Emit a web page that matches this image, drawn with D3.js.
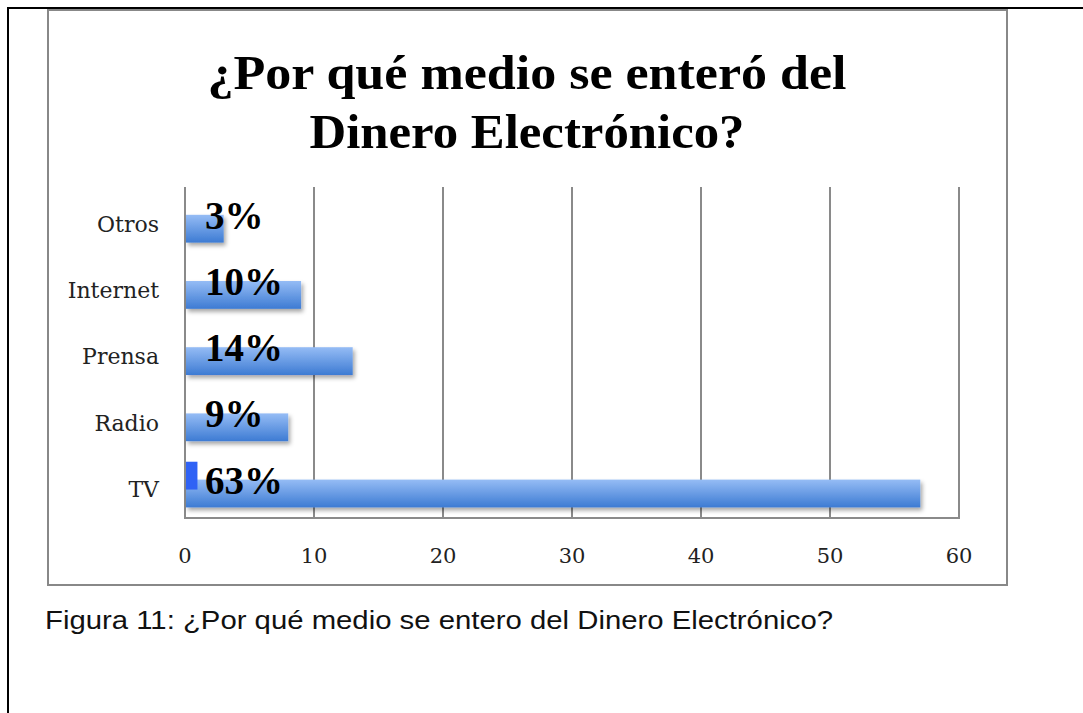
<!DOCTYPE html>
<html>
<head>
<meta charset="utf-8">
<script src="https://cdn.jsdelivr.net/npm/d3@7"></script>
<style>
  body { margin: 0; background: #fff; }
  svg { display: block; }
</style>
</head>
<body>
<svg id="chart" width="1083" height="713"></svg>
<script>
// data
var categories = ['Otros', 'Internet', 'Prensa', 'Radio', 'TV'];
var mainValues = [3, 9, 13, 8, 57];
var extraValues = [0, 0, 0, 0, 0.5];
var pctLabels = ['3%', '10%', '14%', '9%', '63%'];
var xTicks = [0, 10, 20, 30, 40, 50, 60];
var titleLines = ['¿Por qué medio se enteró del', 'Dinero Electrónico?'];
var caption = 'Figura 11: ¿Por qué medio se entero del Dinero Electrónico?';

var svg = d3.select('#chart');
var serif = "'DejaVu Serif', serif";
var titleSerif = "'Liberation Serif', 'Times New Roman', serif";

var plot = { left: 185, right: 959, top: 187, bottom: 518 };

var defs = svg.append('defs');
var grad = defs.append('linearGradient').attr('id', 'barGrad')
    .attr('x1', 0).attr('y1', 0).attr('x2', 0).attr('y2', 1);
grad.append('stop').attr('offset', '0%').attr('stop-color', '#95bcf5');
grad.append('stop').attr('offset', '100%').attr('stop-color', '#3d7bd3');

var shadow = defs.append('filter').attr('id', 'shadow')
    .attr('x', '-10%').attr('y', '-20%').attr('width', '130%').attr('height', '160%');
shadow.append('feDropShadow').attr('dx', 2).attr('dy', 3)
    .attr('stdDeviation', 2).attr('flood-color', '#000').attr('flood-opacity', 0.35);

// page frame (black) and chart frame (gray)
svg.append('path').attr('d', 'M8,713 L8,8 L1083,8')
    .attr('fill', 'none').attr('stroke', '#000').attr('stroke-width', 2);
svg.append('rect').attr('x', 48).attr('y', 10).attr('width', 959).attr('height', 575)
    .attr('fill', '#fff').attr('stroke', '#888').attr('stroke-width', 2);

// title (glyphs stretched a bit to match the condensed original face)
var titleWidths = [639, 435];
svg.append('g').selectAll('text').data(titleLines).enter().append('text')
    .attr('x', 527).attr('y', (d, i) => 89 + i * 59)
    .attr('text-anchor', 'middle')
    .attr('textLength', (d, i) => titleWidths[i]).attr('lengthAdjust', 'spacingAndGlyphs')
    .style('font-family', titleSerif).style('font-weight', 'bold').style('font-size', '48px')
    .text(d => d);

// scales
var x = d3.scaleLinear().domain([0, 60]).range([plot.left, plot.right]);
var y = d3.scaleBand().domain(categories).range([plot.top, plot.bottom]).padding(0);
var bw = y.bandwidth();

// grid
svg.append('g').selectAll('line').data(xTicks).enter().append('line')
    .attr('x1', d => x(d)).attr('x2', d => x(d))
    .attr('y1', plot.top).attr('y2', plot.bottom)
    .attr('stroke', '#8a8a8a').attr('stroke-width', 2);
svg.append('line').attr('x1', plot.left - 1).attr('x2', plot.right + 1)
    .attr('y1', plot.bottom).attr('y2', plot.bottom)
    .attr('stroke', '#8a8a8a').attr('stroke-width', 2);

// bars
svg.append('g').selectAll('rect').data(categories).enter().append('rect')
    .attr('x', x(0) + 1)
    .attr('y', d => y(d) + bw * 0.42)
    .attr('width', (d, i) => x(mainValues[i]) - x(0) - 1)
    .attr('height', bw * 0.42)
    .attr('fill', 'url(#barGrad)')
    .style('filter', 'url(#shadow)');

svg.append('g').selectAll('rect').data(categories.filter((d, i) => extraValues[i] > 0)).enter().append('rect')
    .attr('x', x(0) + 1)
    .attr('y', d => y(d) + bw * 0.15)
    .attr('width', d => x(extraValues[categories.indexOf(d)]) - x(0) + 5)
    .attr('height', bw * 0.42)
    .attr('fill', '#2f62f5');

// value labels
svg.append('g').selectAll('text').data(categories).enter().append('text')
    .attr('x', x(0) + 20)
    .attr('y', d => y(d) + bw * 0.42 + 14)
    .style('font-family', titleSerif).style('font-weight', 'bold').style('font-size', '39px')
    .attr('fill', '#000')
    .text((d, i) => pctLabels[i]);

// category labels
svg.append('g').selectAll('text').data(categories).enter().append('text')
    .attr('x', 159)
    .attr('y', d => y(d) + bw / 2 + 4)
    .attr('dy', '0.36em')
    .attr('text-anchor', 'end')
    .style('font-family', serif).style('font-size', '22px').attr('fill', '#222')
    .text(d => d);

// tick labels
svg.append('g').selectAll('text').data(xTicks).enter().append('text')
    .attr('x', d => x(d))
    .attr('y', plot.bottom + 37)
    .attr('dy', '0.36em')
    .attr('text-anchor', 'middle')
    .style('font-family', serif).style('font-size', '21px').attr('fill', '#222')
    .text(d => d);

// caption
svg.append('text').attr('x', 45).attr('y', 629)
    .attr('textLength', 788).attr('lengthAdjust', 'spacingAndGlyphs')
    .style('font-family', "'Liberation Sans', Arial, sans-serif").style('font-size', '26px')
    .attr('fill', '#111')
    .text(caption);
</script>
</body>
</html>
